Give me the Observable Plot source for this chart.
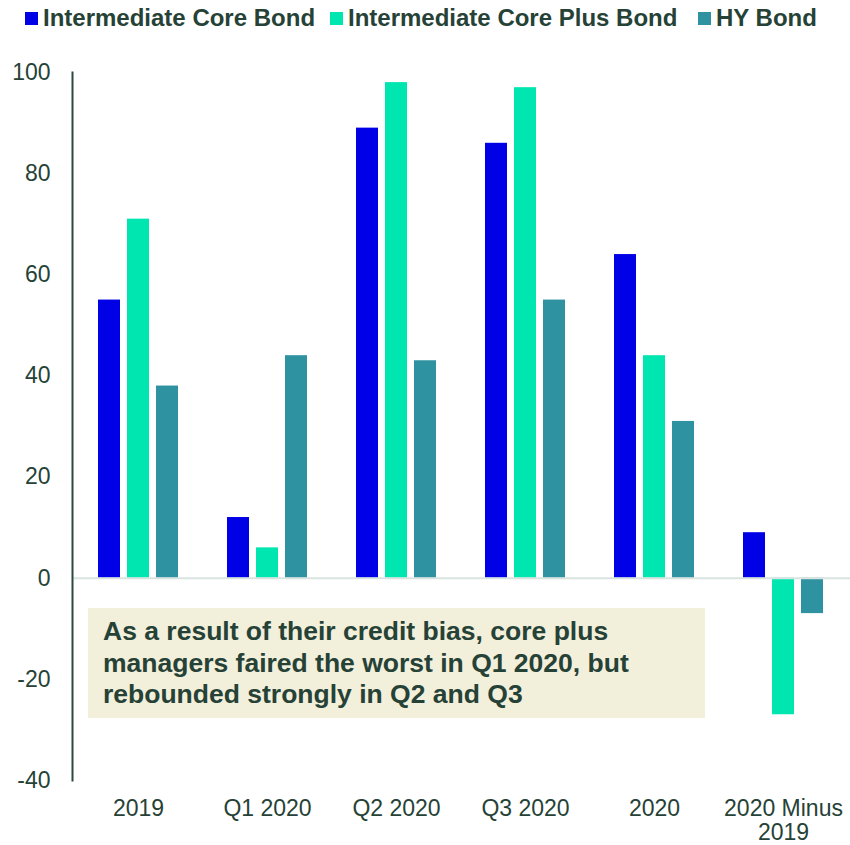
<!DOCTYPE html>
<html>
<head>
<meta charset="utf-8">
<script src="https://cdn.jsdelivr.net/npm/d3@7"></script>
<script src="https://cdn.jsdelivr.net/npm/@observablehq/plot@0.6"></script>
<style>
  body { margin: 0; background: #fff; font-family: "Liberation Sans", Arial, sans-serif; }
  #wrap { position: relative; width: 850px; height: 845px; overflow: hidden; }
  #legend { position: relative; height: 36px; }
  .item { position: absolute; top: 0; height: 36px; display: flex; align-items: center; font-weight: bold; font-size: 24px; color: #264236; white-space: nowrap; }
  .sw { width: 13px; height: 13px; margin-right: 5px; display: inline-block; }
  #note { position: absolute; left: 88px; top: 608px; width: 617px; height: 110px; background: #f2efdb;
          box-sizing: border-box; padding: 8px 0 0 15px; font-weight: bold; font-size: 26.5px; line-height: 31.5px; color: #264236; white-space: nowrap; }
</style>
</head>
<body>
<div id="wrap">
  <div id="legend"></div>
  <div id="chart"></div>
  <div id="note"></div>
</div>
<script>
const categories = ["2019", "Q1 2020", "Q2 2020", "Q3 2020", "2020", "2020 Minus 2019"];
const seriesNames = ["Intermediate Core Bond", "Intermediate Core Plus Bond", "HY Bond"];
const coreBond = [55, 12, 89, 86, 64, 9];
const corePlusBond = [71, 6, 98, 97, 44, -27];
const hyBond = [38, 44, 43, 55, 31, -7];
const seriesColors = ["#0000e6", "#00e6b0", "#2e92a0"];
const yTicks = [-40, -20, 0, 20, 40, 60, 80, 100];
const noteLines = ["As a result of their credit bias, core plus", "managers faired the worst in Q1 2020, but", "rebounded strongly in Q2 and Q3"];
const legendLefts = [25, 330, 698];

const seriesValues = [coreBond, corePlusBond, hyBond];
const rows = [];
seriesNames.forEach((s, i) => categories.forEach((c, j) => rows.push({category: c, series: s, value: seriesValues[i][j]})));

const barStep = 29;
const bars = seriesNames.map((s, i) => Plot.barY(rows.filter(d => d.series === s), {
  x: "category", y: "value", fill: "series",
  insetLeft: i * barStep, insetRight: (seriesNames.length - 1 - i) * barStep
}));

const textColor = "#264236";
const chart = Plot.plot({
  width: 850, height: 809,
  marginTop: 36, marginBottom: 65, marginLeft: 72, marginRight: 0,
  style: {fontFamily: "'Liberation Sans', Arial, sans-serif", fontSize: "23px", color: textColor, background: "white", overflow: "visible"},
  x: {domain: categories, paddingInner: 0.377, paddingOuter: 0.19},
  y: {domain: [-40, 100]},
  color: {domain: seriesNames, range: seriesColors},
  marks: [
    ...bars,
    Plot.ruleY([0], {stroke: "#d9e4e1", strokeWidth: 2}),
    Plot.axisY({ticks: yTicks, tickSize: 0, tickPadding: 22, label: null, tickFormat: d => String(d), fill: textColor}),
    Plot.axisX({tickSize: 0, tickPadding: 18, label: null, fill: textColor, lineHeight: 1.05,
      tickFormat: d => d === "2020 Minus 2019" ? "2020 Minus\n2019" : d}),
    Plot.frame({anchor: "left", stroke: "#2b4a3d", strokeWidth: 2})
  ]
});
document.getElementById("chart").appendChild(chart);

const legend = d3.select("#legend");
seriesNames.forEach((s, i) => {
  const it = legend.append("div").attr("class", "item").style("left", legendLefts[i] + "px");
  it.append("span").attr("class", "sw").style("background", seriesColors[i]);
  it.append("span").text(s);
});
d3.select("#note").selectAll("div").data(noteLines).join("div").text(d => d);
</script>
</body>
</html>
